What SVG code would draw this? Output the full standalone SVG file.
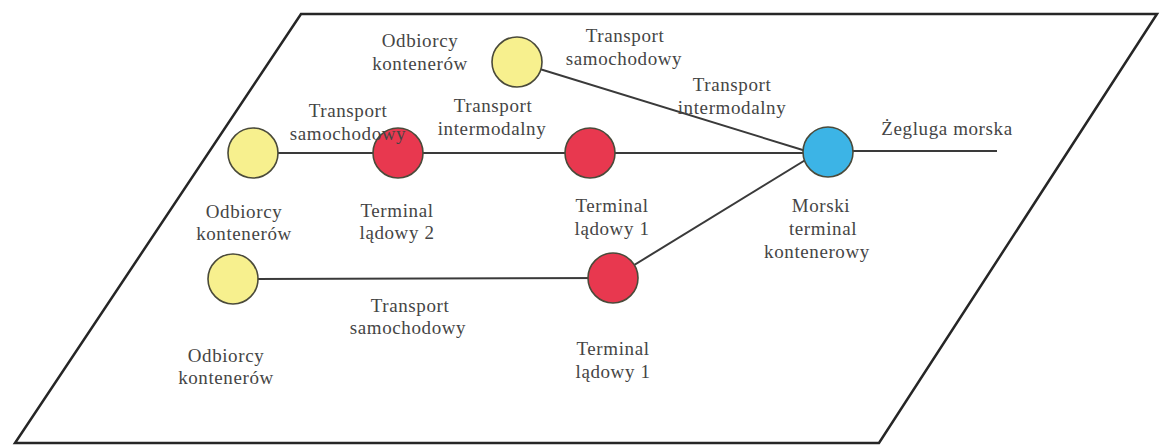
<svg xmlns="http://www.w3.org/2000/svg" width="1162" height="448" viewBox="0 0 1162 448">
<style>
.bg{fill:#fff}
.frame{fill:none;stroke:#262626;stroke-width:2.5;stroke-linejoin:miter}
.ln{stroke:#3a3a3a;stroke-width:2;fill:none}
.nd{stroke:#4a4a3a;stroke-width:1.6}
.y{fill:#f7f08e}
.r{fill:#e8384f}
.b{fill:#3cb4e6}
text{font-family:"Liberation Serif","Times New Roman",Times,serif;font-size:19px;letter-spacing:0.6px;fill:#454545;text-anchor:middle}
</style>
<rect class="bg" x="0" y="0" width="1162" height="448"/>
<polygon class="frame" points="301,14 1157,14 879,443 15,443"/>
<g id="connectors">
<line class="ln" x1="253" y1="153" x2="828" y2="153"/>
<line class="ln" x1="828" y1="151" x2="997" y2="151"/>
<line class="ln" x1="517" y1="62" x2="806" y2="151"/>
<line class="ln" x1="233" y1="279" x2="613" y2="278"/>
<line class="ln" x1="613" y1="278" x2="807" y2="159"/>
</g>
<g id="n_odb_top" font-family="Liberation Serif, serif"><circle class="nd y" cx="517" cy="62" r="25"/><text x="420" y="47">Odbiorcy</text><text x="420" y="70">kontenerów</text></g>
<g id="n_odb_mid" font-family="Liberation Serif, serif"><circle class="nd y" cx="253" cy="153" r="25"/><text x="244" y="218">Odbiorcy</text><text x="244" y="240">kontenerów</text></g>
<g id="n_term2" font-family="Liberation Serif, serif"><circle class="nd r" cx="398" cy="153" r="25"/><text x="397" y="217">Terminal</text><text x="397" y="239">lądowy 2</text></g>
<g id="n_term1" font-family="Liberation Serif, serif"><circle class="nd r" cx="590" cy="153" r="25"/><text x="612" y="212">Terminal</text><text x="612" y="235">lądowy 1</text></g>
<g id="n_morski" font-family="Liberation Serif, serif"><circle class="nd b" cx="828" cy="152" r="25"/><text x="821" y="212">Morski</text><text x="823" y="235">terminal</text><text x="817" y="258">kontenerowy</text></g>
<g id="n_odb_bot" font-family="Liberation Serif, serif"><circle class="nd y" cx="233" cy="279" r="25"/><text x="226" y="362">Odbiorcy</text><text x="226" y="384">kontenerów</text></g>
<g id="n_term1b" font-family="Liberation Serif, serif"><circle class="nd r" cx="613" cy="278" r="25"/><text x="613" y="355">Terminal</text><text x="613" y="378">lądowy 1</text></g>
<g id="labels" font-family="Liberation Serif, serif">
<text x="625" y="42">Transport</text><text x="624" y="65">samochodowy</text>
<text x="732" y="91">Transport</text><text x="732" y="114">intermodalny</text>
<text x="348" y="117">Transport</text><text x="348" y="140">samochodowy</text>
<text x="493" y="112">Transport</text><text x="492" y="135">intermodalny</text>
<text x="947" y="135">Żegluga morska</text>
<text x="410" y="312">Transport</text><text x="408" y="334">samochodowy</text>
</g>
</svg>
